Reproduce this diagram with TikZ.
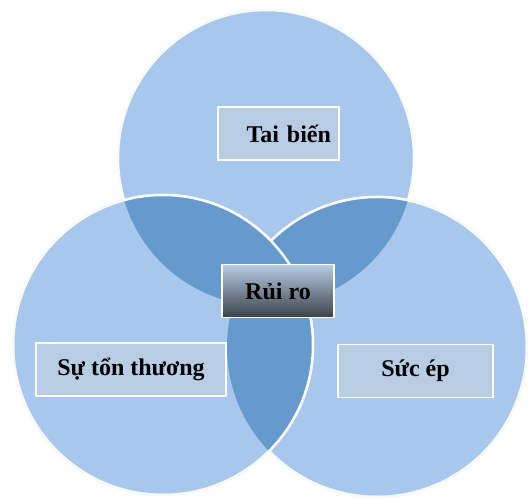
\documentclass[tikz,border=0pt]{standalone}
\usepackage{fontspec}
\setmainfont{Liberation Serif}
\usetikzlibrary{positioning}
\definecolor{lightblue}{HTML}{A7C8EC}
\definecolor{darkblue}{HTML}{6699CC}
\definecolor{boxblue}{HTML}{B8CCE4}
\tikzset{
	every node/.style={font=\bfseries\fontsize{24}{28}\selectfont},
	labelbox/.style={rectangle, draw=white, line width=1.5pt, fill=boxblue, minimum height=53pt, inner sep=0pt}
}

\begin{document}
\begin{tikzpicture}[x=1pt, y=-1pt,
	ring/.style={fill=lightblue, draw=white!95!gray, line width=2.5pt},
	rim/.style={draw=white!95!gray, line width=2.5pt}]
	\useasboundingbox (0,0) rectangle (528,502);
	\coordinate (T) at (266,158);
	\coordinate (L) at (163,345);
	\coordinate (R) at (377,347);
	
	% Circles
	\path[ring] (T) circle (148pt);
	\path[ring] (R) circle (150pt);
	\path[ring] (L) circle (150pt);
	
	% Overlaps
	\begin{scope}
		\clip (T) circle (148pt);
		\fill[darkblue] (L) circle (150pt) (R) circle (150pt);
	\end{scope}
	\begin{scope}
		\clip (L) circle (150pt);
		\fill[darkblue] (R) circle (150pt);
	\end{scope}
	
	% Rims
	\path[rim] (L) circle (150pt);
	\begin{scope}
		\clip (0,0) -- (528,0) -- (528,502) -- (0,502) -- cycle (L) circle (150pt);
		\path[rim] (R) circle (150pt);
	\end{scope}
	
	% Labels
	\node[labelbox, minimum width=121pt, text width=105pt, align=right] (1) at (278.5,133.5) {Tai biến};
	\node[labelbox, minimum width=112pt, top color=boxblue, bottom color=black!68!boxblue] (2) at (278,291) {Rủi ro};
	\node[labelbox, minimum width=190pt] (3) at (131,369.5) {Sự tổn thương};
	\node[labelbox, minimum width=155pt] (4) at (415.5,371) {Sức ép};
\end{tikzpicture}
\end{document}
